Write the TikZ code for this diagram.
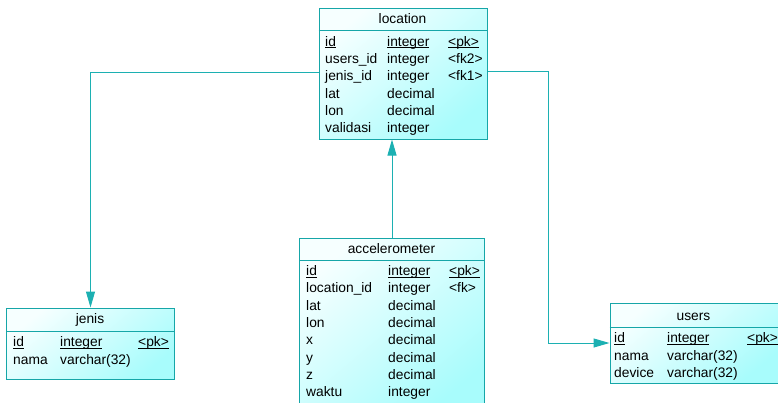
\documentclass[tikz,border=0pt]{standalone}
\usepackage{fontspec}
\setmainfont{Liberation Sans}
\usetikzlibrary{arrows.meta}

\definecolor{edge}{RGB}{22,166,168}
\definecolor{wire}{RGB}{28,176,178}
\definecolor{fillA}{RGB}{246,255,255}
\definecolor{fillB}{RGB}{168,252,252}

% underline at a fixed depth, shared by all key columns
\newcommand\keyline[1]{\leavevmode\setbox0\hbox{#1}\rlap{\rule[-1.9pt]{\wd0}{0.8pt}}\box0}

\tikzset{
  tbl/.style={draw=edge, line width=1pt, anchor=north west, inner sep=0pt,
    shading=axis, top color=fillA, bottom color=fillB, shading angle=40},
  sep/.style={draw=edge, line width=1pt},
  ttl/.style={anchor=base, inner sep=0pt, font=\fontsize{13.8}{17.3}\selectfont},
  rows/.style={anchor=base west, inner sep=0pt, font=\fontsize{13.8}{17.3}\selectfont},
  wire/.style={draw=wire, line width=1pt, -{Triangle[length=16pt,width=9pt]}},
}

\begin{document}
\begin{tikzpicture}[x=1pt,y=-1pt]
\useasboundingbox (0,0) rectangle (778,402);

% ---- location
\node[tbl, minimum width=168pt, minimum height=131pt] (loc) at (318.5,7.5) {};
\draw[sep] ([yshift=-22.5pt]loc.north west) -- ([yshift=-22.5pt]loc.north east);
\node[ttl] (loc-t) at (402.5,23.8) {location};
\node[rows] (loc-b) at (325,46.2) {\begin{tabular}[t]{@{}p{62pt}@{}p{61pt}@{}l@{}}
\keyline{id} & \keyline{integer} & \keyline{<pk>}\\
users\_id & integer & <fk2>\\
jenis\_id & integer & <fk1>\\
lat & decimal & \\
lon & decimal & \\
validasi & integer &
\end{tabular}};

% ---- accelerometer
\node[tbl, minimum width=185pt, minimum height=175pt] (acc) at (299,237.5) {};
\draw[sep] ([yshift=-22.5pt]acc.north west) -- ([yshift=-22.5pt]acc.north east);
\node[ttl] (acc-t) at (391.5,253.5) {accelerometer};
\node[rows] (acc-b) at (306,275.5) {\begin{tabular}[t]{@{}p{82pt}@{}p{61pt}@{}l@{}}
\keyline{id} & \keyline{integer} & \keyline{<pk>}\\
location\_id & integer & <fk>\\
lat & decimal & \\
lon & decimal & \\
x & decimal & \\
y & decimal & \\
z & decimal & \\
waktu & integer &
\end{tabular}};

% ---- jenis
\node[tbl, minimum width=168pt, minimum height=71.5pt] (jen) at (6,307.5) {};
\draw[sep] ([yshift=-23.5pt]jen.north west) -- ([yshift=-23.5pt]jen.north east);
\node[ttl] (jen-t) at (90,323.5) {jenis};
\node[rows] (jen-b) at (13,346.8) {\begin{tabular}[t]{@{}p{47pt}@{}p{78pt}@{}l@{}}
\keyline{id} & \keyline{integer} & \keyline{<pk>}\\
nama & varchar(32) &
\end{tabular}};

% ---- users
\node[tbl, minimum width=168pt, minimum height=80.5pt] (usr) at (609.5,302.5) {};
\draw[sep] ([yshift=-24.5pt]usr.north west) -- ([yshift=-24.5pt]usr.north east);
\node[ttl] (usr-t) at (693.5,320.2) {users};
\node[rows] (usr-b) at (614,342.8) {\begin{tabular}[t]{@{}p{53pt}@{}p{80pt}@{}l@{}}
\keyline{id} & \keyline{integer} & \keyline{<pk>}\\
nama & varchar(32) & \\
device & varchar(32) &
\end{tabular}};

% ---- references
\coordinate (lj) at (0,72.5);
\coordinate (lu) at (0,71.5);
\coordinate (ub) at (548.5,343);
\draw[wire] (loc.west |- lj) -| (jen.north);
\draw[wire] (loc.east |- lu) -| (ub) -- (usr.west |- ub);
\draw[wire] (acc.north) -- (acc.north |- loc.south);
\end{tikzpicture}
\end{document}
